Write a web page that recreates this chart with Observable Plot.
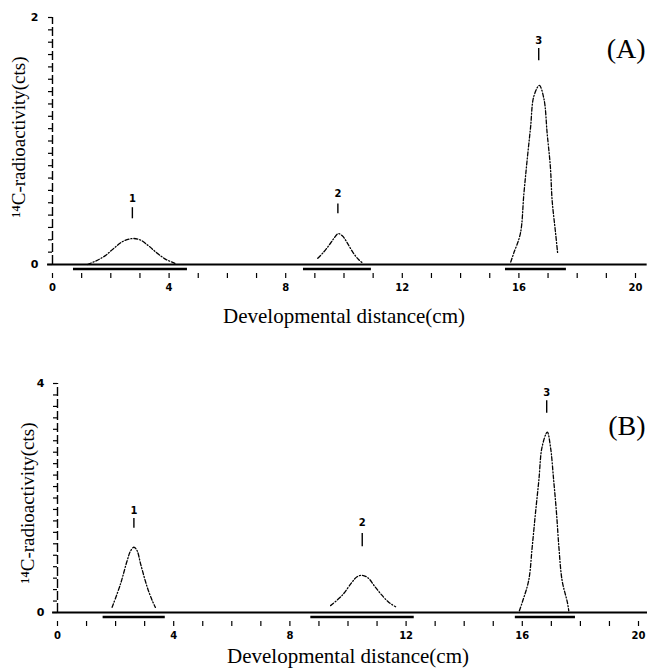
<!DOCTYPE html>
<html><head><meta charset="utf-8">
<script src="https://cdn.jsdelivr.net/npm/d3@7"></script>
<script src="https://cdn.jsdelivr.net/npm/@observablehq/plot@0.6"></script>
<style>body{margin:0;background:#fff;} svg{display:block;}</style>
</head><body><div id="chart"></div>
<script>
// ---------- data ----------
const xTitle = "Developmental distance(cm)";
const yTitle = "¹⁴C-radioactivity(cts)";
const xLabelTicks = [0, 4, 8, 12, 16, 20];
const xMinorTicks = d3.range(0, 21, 1);
const axisExtent = [-0.17, 20.4];

// Panel A
const aLabelTicks = [0, 2];
const aMinorTicks = d3.range(0, 2.001, 0.1);
const a1x = [1.2, 1.5, 1.8, 2.1, 2.4, 2.74, 3.0, 3.3, 3.6, 3.9, 4.2];
const a1y = [0.0, 0.03, 0.07, 0.13, 0.185, 0.21, 0.2, 0.15, 0.09, 0.04, 0.01];
const a2x = [9.1, 9.3, 9.5, 9.65, 9.8, 9.95, 10.1, 10.3, 10.5, 10.65];
const a2y = [0.05, 0.10, 0.16, 0.21, 0.25, 0.23, 0.18, 0.10, 0.04, 0.01];
const a3x = [15.72, 15.82, 16.05, 16.17, 16.28, 16.40, 16.51, 16.7, 16.86, 16.97, 17.08, 17.14, 17.26, 17.33];
const a3y = [0.02, 0.09, 0.25, 0.57, 0.84, 1.11, 1.36, 1.45, 1.34, 1.06, 0.79, 0.52, 0.25, 0.09];
const aBarStart = [0.72, 8.61, 15.54];
const aBarEnd = [4.63, 10.94, 17.63];
const aPeakNames = ["1", "2", "3"];
const aPeakX = [2.74, 9.79, 16.68];
const aPeakLabelY = [0.53, 0.57, 1.81];
const aPeakTickTop = [0.46, 0.49, 1.75];
const aPeakTickBottom = [0.37, 0.41, 1.65];

// Panel B
const bLabelTicks = [0, 4];
const bMinorTicks = d3.range(0, 4.001, 0.2);
const b1x = [1.88, 2.17, 2.40, 2.52, 2.63, 2.74, 2.86, 3.09, 3.26, 3.37];
const b1y = [0.09, 0.50, 0.91, 1.08, 1.14, 1.08, 0.85, 0.44, 0.21, 0.09];
const b2x = [9.4, 9.8, 10.14, 10.3, 10.49, 10.7, 10.9, 11.12, 11.4, 11.64];
const b2y = [0.12, 0.30, 0.53, 0.62, 0.65, 0.60, 0.47, 0.33, 0.18, 0.10];
const b3x = [15.9, 16.0, 16.22, 16.34, 16.45, 16.57, 16.68, 16.86, 16.97, 17.08, 17.18, 17.26, 17.37, 17.55, 17.6];
const b3y = [0.03, 0.18, 0.56, 1.14, 1.72, 2.31, 2.89, 3.15, 2.89, 2.31, 1.72, 1.14, 0.56, 0.18, 0.03];
const bBarStart = [1.57, 8.72, 15.76];
const bBarEnd = [3.71, 12.28, 17.83];
const bPeakNames = ["1", "2", "3"];
const bPeakX = [2.63, 10.49, 16.84];
const bPeakLabelY = [1.78, 1.57, 3.84];
const bPeakTickTop = [1.64, 1.38, 3.70];
const bPeakTickBottom = [1.47, 1.15, 3.48];

// ---------- helpers ----------
function curve(xs, ys, id) { return xs.map((x, i) => ({x, y: ys[i], peak: id})); }
function bars(s, e) { return s.map((x1, i) => ({x1, x2: e[i]})); }
function peakLabels(names, xs, ly, t1, t2) {
  return names.map((n, i) => ({name: n, x: xs[i], ly: ly[i], t1: t1[i], t2: t2[i]}));
}

const SERIF = "Liberation Serif, Times New Roman, serif";
const SANS = "DejaVu Sans, sans-serif";

function panel(cfg) {
  return Plot.plot({
    width: 647, height: cfg.height,
    marginLeft: cfg.ml, marginRight: cfg.mr, marginTop: cfg.mt, marginBottom: cfg.mb,
    style: {background: "white", color: "black", fontFamily: SERIF},
    x: {domain: [0, 20]},
    y: {domain: cfg.ydomain},
    marks: [
      // y axis (dashed) with minor ticks to the left
      Plot.ruleX([0], {y1: 0, y2: cfg.ydomain[1], stroke: "black", strokeWidth: 1.4, strokeDasharray: "9,3"}),
      Plot.axisY({ticks: cfg.minorY, tickSize: 4, tickFormat: () => "", label: null, strokeWidth: 1.2}),
      Plot.axisY({ticks: cfg.labelY, tickSize: 0, tickPadding: cfg.ypad, label: null, tickFormat: d3.format("d"),
        fontWeight: "bold", fontSize: 11, fontFamily: SANS}),
      // x axis ticks and labels
      Plot.axisX({ticks: xMinorTicks, tickSize: 5, tickFormat: () => "", label: null, dy: 9, strokeWidth: 1.2}),
      Plot.axisX({ticks: xLabelTicks, tickSize: 0, tickPadding: cfg.xpad, label: null, tickFormat: d3.format("d"),
        fontWeight: "bold", fontSize: 10, fontFamily: SANS}),
      // baseline
      Plot.ruleY([0], {x1: axisExtent[0], x2: axisExtent[1], stroke: "black", strokeWidth: 2}),
      // fraction bars
      Plot.ruleY(cfg.bars, {x1: "x1", x2: "x2", y: 0, dy: 4.5, stroke: "black", strokeWidth: 2.5}),
      // peaks
      Plot.line(cfg.curves, {x: "x", y: "y", z: "peak", stroke: "black", strokeWidth: 1.3,
        strokeDasharray: "4,2,1,2", curve: "catmull-rom"}),
      // peak labels
      Plot.ruleX(cfg.labels, {x: "x", y1: "t1", y2: "t2", stroke: "black", strokeWidth: 1.4}),
      Plot.text(cfg.labels, {x: "x", y: "ly", text: "name", fontSize: 10, fontWeight: "bold", fontFamily: SANS}),
      // titles
      Plot.text([xTitle], {frameAnchor: "bottom", lineAnchor: "middle", textAnchor: "middle", dy: cfg.xtdy, fontSize: 21, fontFamily: SERIF}),
      Plot.text([yTitle], {frameAnchor: "left", textAnchor: "middle", lineAnchor: "middle", dx: cfg.ytdx, dy: cfg.ytdy, rotate: -90, fontSize: 19, fontFamily: SERIF}),
      Plot.text([cfg.tag], {frameAnchor: "top-right", textAnchor: "end", lineAnchor: "middle", dx: cfg.tagdx, dy: cfg.tagdy, fontSize: 28, fontFamily: SERIF})
    ]
  });
}

const A = panel({
  height: 335, ml: 52, mr: 12, mt: 17, mb: 71, ydomain: [0, 2],
  minorY: aMinorTicks, labelY: aLabelTicks, ypad: 14, xpad: 19,
  bars: bars(aBarStart, aBarEnd),
  curves: [...curve(a1x, a1y, 1), ...curve(a2x, a2y, 2), ...curve(a3x, a3y, 3)],
  labels: peakLabels(aPeakNames, aPeakX, aPeakLabelY, aPeakTickTop, aPeakTickBottom),
  xtdy: 52, ytdx: -34, ytdy: -4, tag: "(A)", tagdx: 10, tagdy: 32
});
const B = panel({
  height: 333, ml: 57, mr: 9, mt: 48, mb: 56, ydomain: [0, 4],
  minorY: bMinorTicks, labelY: bLabelTicks, ypad: 13, xpad: 19,
  bars: bars(bBarStart, bBarEnd),
  curves: [...curve(b1x, b1y, 1), ...curve(b2x, b2y, 2), ...curve(b3x, b3y, 3)],
  labels: peakLabels(bPeakNames, bPeakX, bPeakLabelY, bPeakTickTop, bPeakTickBottom),
  xtdy: 44, ytdx: -30, ytdy: 5, tag: "(B)", tagdx: 7, tagdy: 43
});
const root = document.getElementById("chart");
root.appendChild(A);
root.appendChild(B);
</script></body></html>
